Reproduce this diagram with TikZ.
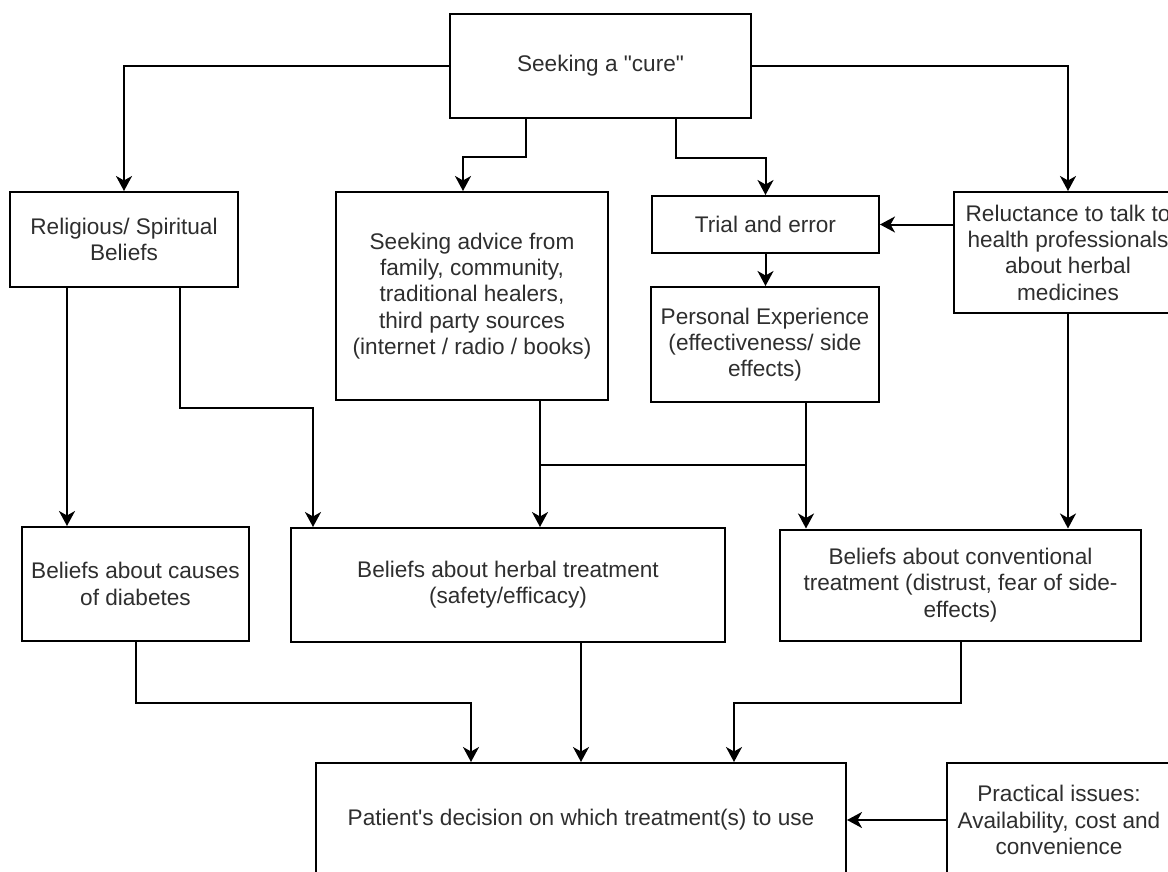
\documentclass[tikz,border=0pt]{standalone}
\usepackage{fontspec}
\setmainfont{Liberation Sans}
\usetikzlibrary{arrows.meta}

\tikzset{
  box/.style={draw=black,line width=2pt,align=center,inner sep=0pt,
    text=black!82,font=\fontsize{22.6}{26.3}\selectfont},
  arr/.style={line width=2pt,-{Stealth[length=15pt,width=16pt,inset=4.5pt]}},
  link/.style={line width=2pt}
}

\begin{document}
\begin{tikzpicture}[x=1pt,y=-1pt]
\useasboundingbox (0,0) rectangle (1168,872);
\clip (0,0) rectangle (1168,872);

% Top row
\node[box,minimum width=301pt,minimum height=104pt] (cure) at (600.5,66) {Seeking a \textquotedbl cure\textquotedbl};

% Second row
\node[box,minimum width=228pt,minimum height=95pt] (relig) at (124,239.5) {Religious/ Spiritual\\Beliefs};
\node[box,minimum width=272pt,minimum height=208pt] (advice) at (472,296) {Seeking advice from\\family, community,\\traditional healers,\\third party sources\\(internet / radio / books)};
\node[box,minimum width=227pt,minimum height=57pt] (trial) at (765.5,224.5) {Trial and error};
\node[box,minimum width=228pt,minimum height=115pt] (personal) at (765,344.5) {Personal Experience\\(effectiveness/ side\\effects)};
\node[box,minimum width=228pt,minimum height=121pt] (reluct) at (1068,252.5) {Reluctance to talk to\\health professionals\\about herbal\\medicines};

% Beliefs row
\node[box,minimum width=227pt,minimum height=114pt] (causes) at (135.5,584) {Beliefs about causes\\of diabetes};
\node[box,minimum width=434pt,minimum height=114pt] (herbal) at (508,585) {Beliefs about herbal treatment\\(safety/efficacy)};
\node[box,minimum width=361pt,minimum height=111pt] (conv) at (960.5,585) {Beliefs about conventional\\treatment (distrust, fear of side-\\effects)};

% Bottom row
\node[box,minimum width=530pt,minimum height=114pt] (decision) at (581,820) {Patient\textquotesingle s decision on which treatment(s) to use};
\node[box,minimum width=224pt,minimum height=114pt] (practical) at (1059,820) {Practical issues:\\Availability, cost and\\convenience};

% From the top box
\draw[arr] (cure.west) -| (relig.north);
\draw[arr] (cure.east) -| (reluct.north);
\draw[arr] ([xshift=-74.5pt]cure.south) -- ++(0,38) -| ([xshift=-9pt]advice.north);
\draw[arr] ([xshift=75.5pt]cure.south) -- ++(0,39) -| (trial.north);
\draw[arr] (reluct.west |- trial.east) -- (trial.east);
\draw[arr] (trial.south) -- (trial.south |- personal.north);

% Into the beliefs
\draw[arr] ([xshift=-57pt]relig.south) coordinate (rl) -- (rl |- causes.north);
\draw[arr] ([xshift=56pt]relig.south) -- ++(0,120) -| ([xshift=-195pt]herbal.north);
\draw[arr] ([xshift=68pt]advice.south) coordinate (aj) -- (aj |- herbal.north);
\draw[arr] ([xshift=41pt]personal.south) coordinate (pj) -- (pj |- conv.north);
\draw[link] (aj |- 0,465) -- (pj |- 0,465);
\draw[arr] (reluct.south) -- (reluct.south |- conv.north);

% Into the decision
\draw[arr] (causes.south) -- ++(0,61) -| ([xshift=-110pt]decision.north);
\draw[arr] (herbal.south -| decision.north) -- (decision.north);
\draw[arr] (conv.south) -- ++(0,61) -| ([xshift=153pt]decision.north);
\draw[arr] (practical.west) -- (decision.east);
\end{tikzpicture}
\end{document}
